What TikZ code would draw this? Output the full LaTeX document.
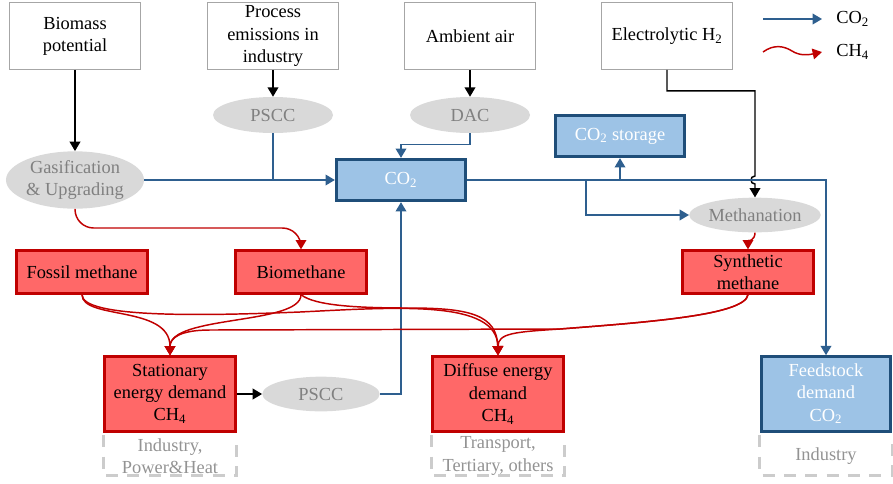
\documentclass[tikz,border=0pt]{standalone}
\usepackage{fontspec}
\setmainfont{Liberation Serif}
\usetikzlibrary{arrows.meta,positioning,shapes.geometric}
\definecolor{co2line}{RGB}{46,95,143}
\definecolor{co2dark}{RGB}{31,78,121}
\definecolor{co2fill}{RGB}{157,195,230}
\definecolor{ch4red}{RGB}{192,0,0}
\definecolor{ch4fill}{RGB}{255,104,104}
\definecolor{procgray}{RGB}{217,217,217}
\definecolor{proctext}{RGB}{128,128,128}

\begin{document}
\begin{tikzpicture}[x=0.75pt, y=-0.75pt, font=\fontsize{13.8}{16.6}\selectfont]
      \tikzstyle{src}=[rectangle,draw=gray!70,line width=0.75pt,align=center,minimum width=98pt,minimum height=50pt,inner sep=1pt]
      \tikzstyle{proc}=[ellipse,fill=procgray,text=proctext,align=center,inner sep=0pt]
      \tikzstyle{gas}=[rectangle,draw=ch4red,line width=2pt,fill=ch4fill,align=center,minimum width=98pt,minimum height=32pt,inner sep=1pt]
      \tikzstyle{carb}=[rectangle,draw=co2dark,line width=2.2pt,fill=co2fill,text=white,align=center,minimum width=97pt,minimum height=31pt,inner sep=1pt]
      \tikzstyle{sectortxt}=[text=gray!85,align=center,inner sep=0pt]
      \tikzstyle{sector}=[draw=gray!40,line width=2.2pt,dash pattern=on 9pt off 7pt]
      \tikzstyle{bflow}=[co2line,line width=1.1pt,-{Triangle[width=8pt,length=7pt]}]
      \tikzstyle{rflow}=[ch4red,line width=1.1pt,-{Triangle[width=8pt,length=7pt]}]
      \tikzstyle{kflow}=[black,line width=1.1pt,-{Triangle[width=8pt,length=7pt]}]
      \useasboundingbox (0,0) rectangle (893,483);

      % sources
      \node[src] (bio) at (75,36) {Biomass\\potential};
      \node[src] (proc) at (273,36) {Process\\emissions in\\industry};
      \node[src] (air) at (470,36) {Ambient air};
      \node[src] (elec) at (667,36) {Electrolytic H\textsubscript{2}};

      % conversion steps
      \node[proc,minimum width=90pt,minimum height=27pt] (psccA) at (273,115) {PSCC};
      \node[proc,minimum width=90pt,minimum height=27pt] (dac) at (470,115) {DAC};
      \node[proc,minimum width=103pt,minimum height=43pt] (gasif) at (75,180) {Gasification\\\& Upgrading};
      \node[proc,minimum width=97pt,minimum height=26pt] (meth) at (755,215) {Methanation};
      \node[proc,minimum width=88pt,minimum height=26pt] (psccB) at (321,394) {PSCC};

      % carbon and methane pools
      \node[carb] (co2) at (401,180) {CO\textsubscript{2}};
      \node[carb] (store) at (620,136) {CO\textsubscript{2} storage};
      \node[gas] (fossil) at (82,272) {Fossil methane};
      \node[gas] (biometh) at (301,272) {Biomethane};
      \node[gas] (synth) at (748,272) {Synthetic\\methane};

      % demands
      \node[gas,minimum height=56pt] (stat) at (170,394) {Stationary\\energy demand\\CH\textsubscript{4}};
      \node[gas,minimum height=56pt] (diff) at (498,394) {Diffuse energy\\demand\\CH\textsubscript{4}};
      \node[carb,minimum height=56pt] (feed) at (826,394) {Feedstock\\demand\\CO\textsubscript{2}};
      \node[sectortxt] (statuse) at (170,456) {Industry,\\Power\&Heat};
      \node[sectortxt] (diffuse) at (498,456) {Transport,\\Tertiary, others};
      \node[sectortxt] (feeduse) at (826,456) {Industry};
      \draw[sector] ([yshift=-2pt]stat.south west) |- ([yshift=-32pt]stat.south) -| ([yshift=-2pt]stat.south east);
      \draw[sector] ([yshift=-2pt]diff.south west) |- ([yshift=-32pt]diff.south) -| ([yshift=-2pt]diff.south east);
      \draw[sector] ([yshift=-2pt]feed.south west) |- ([yshift=-32pt]feed.south) -| ([yshift=-2pt]feed.south east);

      % legend
      \coordinate (lgA) at (763,19);
      \coordinate (lgB) at (822,19);
      \coordinate (lgC) at (763,52);
      \coordinate (lgD) at (822,52);
      \node[anchor=west,inner sep=0pt] (lgco2) at (836,19) {CO\textsubscript{2}};
      \node[anchor=west,inner sep=0pt] (lgch4) at (836,52) {CH\textsubscript{4}};
      \draw[bflow] (lgA) -- (lgB);
      \draw[rflow] (lgC) .. controls (774,44) and (784,46) .. (792,51) .. controls (800,56) and (808,55) .. (lgD);

      % black flows
      \draw[kflow] (bio) -- (gasif);
      \draw[kflow] (proc) -- (psccA);
      \draw[kflow] (air) -- (dac);
      \draw[kflow] (stat) -- (psccB);
      \coordinate (hop) at (755,180);
      \draw[kflow] (elec.south) -- ++(0,21) -| ([yshift=3pt]hop) .. controls ([xshift=-4pt,yshift=3pt]hop) and ([xshift=-4pt,yshift=-3pt]hop) .. ([yshift=-3pt]hop) -- (meth);

      % CO2 flows
      \coordinate (split) at (586,180);
      \draw[bflow] (gasif) -- (co2);
      \draw[co2line,line width=1.1pt] (psccA) -- (psccA |- gasif);
      \draw[bflow] (dac.south) -- ++(0,11) -| (co2.north);
      \draw[bflow] (psccB) -| (co2);
      \draw[bflow] (co2) -| (feed);
      \draw[bflow] (store.south |- co2) -- (store);
      \draw[bflow] (split) |- (meth);

      % CH4 flows
      \coordinate (gb) at (301,228);
      \draw[rflow,rounded corners=14pt] (gasif.south) |- (gb) -- (biometh.north);
      \draw[rflow] (meth.south) .. controls +(0,8) and +(0,-8) .. (synth.north);
      \draw[rflow] (fossil.south) .. controls (82,320) and (170,305) .. (stat.north);
      \draw[rflow] (fossil.south) .. controls (82,318) and (200,316) .. (300,312) .. controls (400,307) and (497,300) .. (diff.north);
      \draw[rflow] (biometh.south) .. controls (301,325) and (170,315) .. (stat.north);
      \draw[rflow] (biometh.south) .. controls (315,306) and (360,308) .. (410,308) .. controls (470,308) and (497,315) .. (diff.north);
      \draw[rflow] (synth.south) .. controls (745,315) and (650,322) .. (560,329) .. controls (515,332) and (498,333) .. (diff.north);
      \draw[rflow] (synth.south) .. controls (745,315) and (650,322) .. (560,329) -- (210,330) .. controls (180,330) and (170,338) .. (stat.north);

    \end{tikzpicture}
\end{document}
